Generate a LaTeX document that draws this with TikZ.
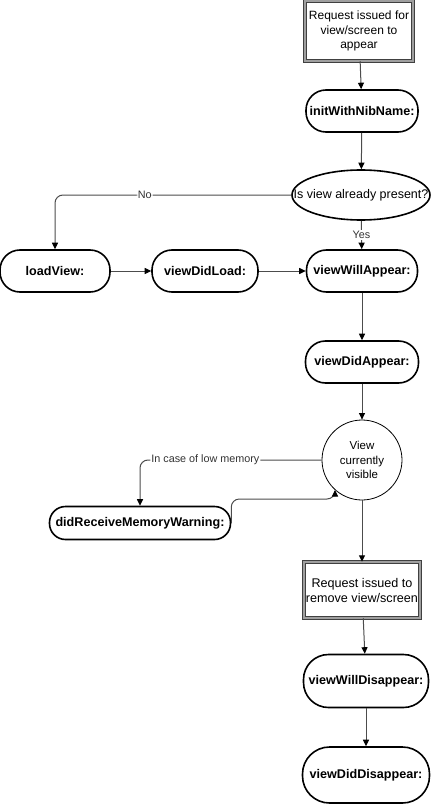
\documentclass[tikz,border=0pt]{standalone}
\usepackage{fontspec}
\setmainfont{Liberation Sans}
\usetikzlibrary{shapes.geometric, arrows.meta}

\begin{document}
\begin{tikzpicture}[x=1pt, y=-1pt, >={Triangle[length=6.5pt, width=6pt, color=black]}]
    \tikzstyle{request} = [rectangle, draw=gray!50!black, double=gray!75, double distance=2.4pt, line width=0.5pt, fill=white, align=center, inner sep=0pt, font=\fontsize{12}{14.5}\selectfont]
    \tikzstyle{method} = [rectangle, rounded corners=20pt, draw, line width=1.6pt, minimum height=42pt, inner sep=0pt, font=\bfseries\fontsize{12.6}{15}\selectfont]
    \tikzstyle{decision} = [ellipse, draw, line width=1.6pt, minimum width=138pt, minimum height=50pt, inner xsep=-19pt, inner ysep=0pt, font=\fontsize{12.5}{15}\selectfont]
    \tikzstyle{state} = [circle, draw, line width=0.8pt, minimum size=80pt, inner sep=0pt, align=center, font=\fontsize{11.5}{14.5}\selectfont]
    \tikzstyle{line} = [draw=black!70, line width=1pt]
    \tikzstyle{tag} = [fill=white, inner sep=1pt, text=black!80, font=\fontsize{10.8}{13}\selectfont]

    \useasboundingbox (0,0) rectangle (433,805);

    % Appearing
    \node [request, minimum width=108pt, minimum height=60pt] (req_show) at (359,31) {Request issued for\\view/screen to\\appear};
    \node [method, minimum width=112pt] (init) at (362,111) {initWithNibName:};
    \node [decision] (present) at (361,195) {Is view already present?};

    % Loading
    \node [method, minimum width=110pt] (load) at (55,271) {loadView:};
    \node [method, minimum width=106pt] (did_load) at (205,271) {viewDidLoad:};
    \node [method, minimum width=111pt] (will_appear) at (362,271) {viewWillAppear:};
    \node [method, minimum width=113pt] (did_appear) at (362,362) {viewDidAppear:};

    % Visible
    \node [state] (visible) at (362,460) {View\\currently\\visible};
    \node [method, rounded corners=16pt, minimum width=181pt, minimum height=33pt] (memory) at (140,523) {didReceiveMemoryWarning:};
    \coordinate (mem_turn) at (335,499);

    % Disappearing
    \node [request, minimum width=116pt, minimum height=56pt, font=\fontsize{12.6}{15}\selectfont] (req_hide) at (362,590) {Request issued to\\remove view/screen};
    \node [method, minimum width=125pt, minimum height=53pt, rounded corners=25pt] (will_dis) at (366,681) {viewWillDisappear:};
    \node [method, minimum width=127pt, minimum height=56pt, rounded corners=27pt] (did_dis) at (366,775) {viewDidDisappear:};

    % Connections
    \draw [line, ->] (req_show) -- (init);
    \draw [line, ->] (init) -- (present);
    \draw [line, ->, rounded corners=8pt] (present.west) -| (load.north) node [tag, pos=0.31] {No};
    \draw [line, ->] (present) -- (will_appear) node [tag, midway] {Yes};
    \draw [line, ->] (load) -- (did_load);
    \draw [line, ->] (did_load) -- (will_appear);
    \draw [line, ->] (will_appear) -- (did_appear);
    \draw [line, ->] (did_appear) -- (visible);
    \draw [line, ->, rounded corners=8pt] (visible.west) -| (memory.north) node [tag, pos=0.32] {In case of low memory};
    \draw [line, ->, rounded corners=8pt] (memory.east) |- (mem_turn) -- (visible.228);
    \draw [line, ->] (visible) -- (req_hide);
    \draw [line, ->] (req_hide) -- (will_dis);
    \draw [line, ->] (will_dis) -- (did_dis);
\end{tikzpicture}
\end{document}
